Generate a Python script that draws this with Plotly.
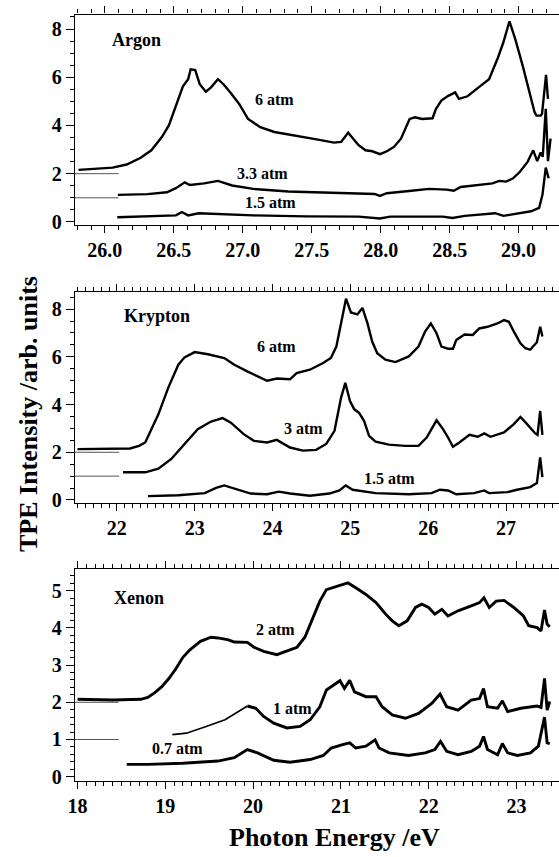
import plotly.graph_objects as go

# ---------------- data ----------------
ar6_x = [25.809, 26.056, 26.158, 26.26, 26.337, 26.413, 26.464, 26.515, 26.566, 26.604, 26.622, 26.655,
         26.688, 26.732, 26.77, 26.82, 26.86, 26.91, 26.974, 27.038, 27.127, 27.229, 27.382, 27.535,
         27.662, 27.713, 27.764, 27.79, 27.84, 27.89, 27.94, 27.994, 28.045, 28.096, 28.147, 28.21,
         28.249, 28.30, 28.376, 28.40, 28.44, 28.49, 28.54, 28.567, 28.63, 28.71, 28.786, 28.85,
         28.888, 28.934, 28.977, 29.03, 29.065, 29.116, 29.13, 29.16, 29.17, 29.199, 29.213]
ar6_y = [2.16, 2.25, 2.38, 2.66, 2.97, 3.52, 4.0, 4.82, 5.62, 5.92, 6.33, 6.30,
         5.71, 5.40, 5.58, 5.92, 5.71, 5.37, 4.89, 4.27, 3.93, 3.73, 3.59, 3.42,
         3.29, 3.32, 3.70, 3.52, 3.18, 2.97, 2.93, 2.81, 2.93, 3.11, 3.45, 4.27,
         4.34, 4.27, 4.30, 4.68, 5.03, 5.23, 5.37, 5.10, 5.21, 5.58, 5.92, 6.81,
         7.42, 8.32, 7.56, 6.47, 5.64, 4.55, 4.41, 4.41, 4.48, 6.10, 5.10]

ar33_x = [26.094, 26.31, 26.45, 26.515, 26.579, 26.617, 26.72, 26.82, 26.923, 27.076, 27.33, 27.586,
          27.84, 27.956, 27.994, 28.045, 28.223, 28.35, 28.478, 28.53, 28.58, 28.71, 28.81, 28.86,
          28.91, 28.96, 29.01, 29.065, 29.106, 29.135, 29.16, 29.175, 29.197, 29.213, 29.232]
ar33_y = [1.12, 1.15, 1.23, 1.40, 1.64, 1.53, 1.60, 1.70, 1.51, 1.37, 1.26, 1.21,
          1.19, 1.16, 1.08, 1.19, 1.29, 1.37, 1.34, 1.29, 1.45, 1.53, 1.60, 1.70,
          1.67, 1.81, 2.08, 2.49, 2.97, 2.52, 2.88, 2.70, 4.69, 2.52, 3.45]

ar15_x = [26.09, 26.31, 26.515, 26.558, 26.604, 26.68, 26.82, 27.076, 27.458, 27.84, 27.994, 28.07,
          28.45, 28.52, 28.61, 28.83, 28.89, 28.99, 29.09, 29.149, 29.173, 29.197, 29.218]
ar15_y = [0.19, 0.22, 0.27, 0.41, 0.27, 0.36, 0.33, 0.27, 0.23, 0.22, 0.14, 0.22,
          0.22, 0.16, 0.25, 0.36, 0.25, 0.33, 0.44, 0.58, 1.12, 2.25, 1.81]

kr6_x = [21.494, 21.95, 22.17, 22.285, 22.365, 22.534, 22.66, 22.79, 22.87, 23.0, 23.17, 23.38,
         23.51, 23.675, 23.845, 23.93, 24.055, 24.225, 24.31, 24.48, 24.65, 24.75, 24.82, 24.88,
         24.944, 25.007, 25.09, 25.155, 25.22, 25.28, 25.345, 25.45, 25.58, 25.75, 25.875, 25.96,
         26.034, 26.107, 26.17, 26.255, 26.318, 26.36, 26.466, 26.572, 26.656, 26.762, 26.889, 26.973,
         27.036, 27.10, 27.185, 27.248, 27.31, 27.396, 27.438, 27.467]
kr6_y = [2.13, 2.13, 2.16, 2.27, 2.41, 3.59, 4.70, 5.67, 5.98, 6.20, 6.11, 5.95,
         5.67, 5.39, 5.11, 5.00, 5.09, 5.06, 5.32, 5.46, 5.74, 5.95, 6.43, 7.47,
         8.44, 7.86, 7.78, 8.05, 7.40, 6.64, 6.15, 5.88, 5.78, 6.02, 6.43, 7.06,
         7.40, 6.99, 6.43, 6.34, 6.34, 6.71, 6.94, 6.92, 7.19, 7.26, 7.40, 7.54,
         7.47, 7.06, 6.57, 6.36, 6.30, 6.61, 7.26, 6.85]

kr3_x = [22.08, 22.365, 22.534, 22.70, 22.87, 23.04, 23.21, 23.36, 23.465, 23.63, 23.76, 23.93,
         24.055, 24.225, 24.39, 24.56, 24.69, 24.796, 24.88, 24.935, 24.995, 25.05, 25.11, 25.177,
         25.24, 25.324, 25.494, 25.705, 25.875, 25.98, 26.107, 26.19, 26.255, 26.318, 26.40, 26.53,
         26.636, 26.72, 26.80, 26.973, 27.10, 27.185, 27.27, 27.375, 27.404, 27.438, 27.467]
kr3_y = [1.16, 1.16, 1.31, 1.72, 2.35, 2.97, 3.29, 3.43, 3.24, 2.76, 2.48, 2.41,
         2.52, 2.20, 2.07, 2.10, 2.35, 2.90, 4.28, 4.91, 4.15, 3.80, 3.66, 3.31,
         2.69, 2.45, 2.32, 2.27, 2.27, 2.62, 3.34, 2.97, 2.62, 2.23, 2.41, 2.73,
         2.65, 2.79, 2.65, 2.83, 3.18, 3.48, 3.18, 2.79, 2.73, 3.73, 2.73]

kr15_x = [22.40, 22.79, 23.13, 23.275, 23.38, 23.51, 23.72, 23.93, 24.08, 24.225, 24.48, 24.73,
          24.86, 24.94, 25.03, 25.324, 25.75, 26.043, 26.15, 26.255, 26.36, 26.59, 26.72, 26.78,
          27.016, 27.14, 27.31, 27.396, 27.438, 27.467]
kr15_y = [0.16, 0.20, 0.29, 0.51, 0.61, 0.47, 0.27, 0.24, 0.35, 0.27, 0.18, 0.27,
          0.40, 0.61, 0.43, 0.29, 0.24, 0.29, 0.43, 0.40, 0.24, 0.29, 0.40, 0.29,
          0.33, 0.43, 0.54, 0.71, 1.79, 0.96]

xe2_x = [18.0, 18.40, 18.72, 18.80, 18.88, 18.96, 19.04, 19.12, 19.20, 19.28, 19.40, 19.52,
         19.60, 19.72, 19.785, 19.935, 20.01, 20.12, 20.27, 20.385, 20.50, 20.59, 20.685, 20.76,
         20.835, 20.95, 21.08, 21.17, 21.285, 21.40, 21.51, 21.585, 21.66, 21.755, 21.85, 21.92,
         22.00, 22.07, 22.15, 22.22, 22.335, 22.485, 22.58, 22.63, 22.69, 22.77, 22.86, 22.97,
         23.08, 23.14, 23.235, 23.28, 23.32, 23.35, 23.38]
xe2_y = [2.08, 2.06, 2.08, 2.13, 2.26, 2.42, 2.64, 2.90, 3.21, 3.41, 3.64, 3.75,
         3.73, 3.68, 3.62, 3.61, 3.48, 3.37, 3.28, 3.37, 3.48, 3.75, 4.28, 4.72,
         5.03, 5.12, 5.21, 5.08, 4.90, 4.68, 4.37, 4.19, 4.06, 4.19, 4.55, 4.64,
         4.55, 4.37, 4.50, 4.32, 4.46, 4.59, 4.68, 4.81, 4.55, 4.72, 4.74, 4.55,
         4.32, 4.06, 4.01, 3.92, 4.48, 4.10, 4.03]

xe1_x = [19.08, 19.24, 19.44, 19.68, 19.935, 20.03, 20.12, 20.235, 20.385, 20.535, 20.65, 20.76,
         20.835, 20.91, 20.99, 21.04, 21.10, 21.155, 21.285, 21.40, 21.47, 21.585, 21.735, 21.885,
         22.035, 22.13, 22.205, 22.335, 22.485, 22.58, 22.625, 22.67, 22.785, 22.84, 22.90, 23.05,
         23.235, 23.28, 23.32, 23.35, 23.38]
xe1_y = [1.13, 1.17, 1.33, 1.53, 1.90, 1.84, 1.62, 1.44, 1.31, 1.35, 1.53, 1.88,
         2.33, 2.46, 2.58, 2.37, 2.59, 2.28, 2.15, 2.15, 1.88, 1.66, 1.57, 1.70,
         1.97, 2.22, 1.88, 1.79, 2.06, 2.10, 2.37, 1.88, 1.84, 2.04, 1.75, 1.84,
         1.90, 1.86, 2.64, 1.79, 2.02]
xe1_gap_end = 5   # the first points are joined by a thin straight trace

xe07_x = [18.56, 18.80, 19.20, 19.60, 19.785, 19.935, 20.05, 20.235, 20.42, 20.65, 20.80, 20.89,
          21.02, 21.10, 21.17, 21.285, 21.39, 21.435, 21.55, 21.70, 21.77, 21.96, 22.07, 22.135,
          22.205, 22.335, 22.485, 22.58, 22.625, 22.67, 22.785, 22.84, 22.90, 23.01, 23.16, 23.25,
          23.32, 23.35, 23.38]
xe07_y = [0.33, 0.33, 0.36, 0.42, 0.51, 0.73, 0.64, 0.44, 0.39, 0.46, 0.57, 0.77,
          0.86, 0.91, 0.77, 0.82, 0.99, 0.77, 0.64, 0.59, 0.57, 0.64, 0.73, 0.95,
          0.68, 0.59, 0.68, 0.82, 1.08, 0.73, 0.59, 0.89, 0.64, 0.57, 0.64, 0.82,
          1.60, 0.91, 0.89]

# baseline markers (offset levels) and their extent
base_levels = [2, 1]
ar_base_x = [25.783, 26.10]
kr_base_x = [21.462, 22.03]
xe_base_x = [17.97, 18.47]

gas_names = ["Argon", "Krypton", "Xenon"]
ar_labels = ["6 atm", "3.3 atm", "1.5 atm"]
ar_lab_x = [27.23, 27.14, 27.20]
ar_lab_y = [5.06, 2.01, 0.82]
kr_labels = ["6 atm", "3 atm", "1.5 atm"]
kr_lab_x = [24.05, 24.40, 25.50]
kr_lab_y = [6.43, 3.01, 0.89]
xe_labels = ["2 atm", "1 atm", "0.7 atm"]
xe_lab_x = [20.25, 20.45, 19.14]
xe_lab_y = [3.97, 1.84, 0.77]
name_x = [26.23, 22.51, 18.70]
name_y = [7.53, 7.72, 4.81]

x_title = "Photon Energy /eV"
y_title = "TPE Intensity /arb. units"

# ---------------- figure ----------------
W, H = 559, 857
FONT = "Liberation Serif, Times New Roman, serif"
LW = 2.4

fig = go.Figure()

def add_line(x, y, ax, width=LW, color="black"):
    fig.add_trace(go.Scatter(x=x, y=y, mode="lines", xaxis="x" + ax, yaxis="y" + ax,
                             line=dict(color=color, width=width), hoverinfo="skip",
                             showlegend=False))

panels = [
    ("", [(ar6_x, ar6_y), (ar33_x, ar33_y), (ar15_x, ar15_y)], ar_base_x),
    ("2", [(kr6_x, kr6_y), (kr3_x, kr3_y), (kr15_x, kr15_y)], kr_base_x),
]
for ax, series, bx in panels:
    for lv in base_levels:
        add_line(bx, [lv, lv], ax, width=1, color="#555555")
    for sx, sy in series:
        add_line(sx, sy, ax)

# Xenon
for lv in base_levels:
    add_line(xe_base_x, [lv, lv], "3", width=1, color="#555555")
add_line(xe2_x, xe2_y, "3", width=2.9)
add_line(xe1_x[:xe1_gap_end], xe1_y[:xe1_gap_end], "3", width=1.6)
add_line(xe1_x[xe1_gap_end - 1:], xe1_y[xe1_gap_end - 1:], "3", width=2.9)
add_line(xe07_x, xe07_y, "3", width=2.9)

tickfont = dict(family=FONT, size=20, color="black", weight="bold")

def xaxis(rng, dtick, minor, anchor, fmt):
    return dict(range=rng, domain=[68.8 / W, 1.0], anchor=anchor, showline=True,
                linecolor="black", linewidth=1.2, mirror="allticks", ticks="outside",
                ticklen=7, tickwidth=1.2, tickcolor="black", dtick=dtick, tick0=0,
                tickformat=fmt, minor=dict(dtick=minor, tick0=0, ticks="outside", ticklen=4,
                                           tickwidth=1.2, tickcolor="black"),
                showgrid=False, zeroline=False, tickfont=tickfont)

def yaxis(rng, dtick, minor, anchor, top_px, bot_px):
    return dict(range=rng, domain=[(H - bot_px) / H, (H - top_px) / H], anchor=anchor,
                showline=True, linecolor="black", linewidth=1.2, mirror=False,
                ticks="outside", ticklen=8, tickwidth=1.2, tickcolor="black", dtick=dtick,
                tick0=0, minor=dict(dtick=minor, tick0=0, ticks="outside", ticklen=4,
                                    tickwidth=1.2, tickcolor="black"),
                showgrid=False, zeroline=False, tickfont=tickfont)

fig.update_layout(
    width=W, height=H, margin=dict(l=0, r=0, t=0, b=0),
    paper_bgcolor="white", plot_bgcolor="white",
    xaxis=xaxis([25.783, 29.293], 0.5, 0.1, "y", ".1f"),
    yaxis=yaxis([-0.136, 8.6], 2, 0.5, "x", 14.7, 227.3),
    xaxis2=xaxis([21.462, 27.68], 1, 0.1, "y2", "d"),
    yaxis2=yaxis([-0.137, 8.7], 2, 0.5, "x2", 295.2, 508.0),
    xaxis3=xaxis([17.97, 23.485], 1, 0.1, "y3", "d"),
    yaxis3=yaxis([-0.107, 5.575], 1, 0.2, "x3", 574.7, 788.0),
)

ann = []
lab_font = dict(family=FONT, size=16, color="black", weight="bold")
name_font = dict(family=FONT, size=18, color="black", weight="bold")
for i, ax in enumerate(["", "2", "3"]):
    ann.append(dict(x=name_x[i], y=name_y[i], xref="x" + ax, yref="y" + ax, text=gas_names[i],
                    showarrow=False, font=name_font))
for ax, labs, lx, ly in [("", ar_labels, ar_lab_x, ar_lab_y),
                         ("2", kr_labels, kr_lab_x, kr_lab_y),
                         ("3", xe_labels, xe_lab_x, xe_lab_y)]:
    for t, a, b in zip(labs, lx, ly):
        ann.append(dict(x=a, y=b, xref="x" + ax, yref="y" + ax, text=t, showarrow=False,
                        font=lab_font))
title_font = dict(family=FONT, size=26, color="black", weight="bold")
ann.append(dict(x=332 / W, y=(H - 845) / H, xref="paper", yref="paper", text=x_title,
                showarrow=False, font=title_font, xanchor="center", yanchor="middle"))
ann.append(dict(x=21.7 / W, y=(H - 417.5) / H, xref="paper", yref="paper", text=y_title,
                showarrow=False, font=title_font, textangle=-90, xanchor="center",
                yanchor="middle"))
fig.update_layout(annotations=ann)

fig.write_html("out.html", config={"displayModeBar": False},
               post_script="document.body.style.margin='0';document.body.style.overflow='hidden';")
